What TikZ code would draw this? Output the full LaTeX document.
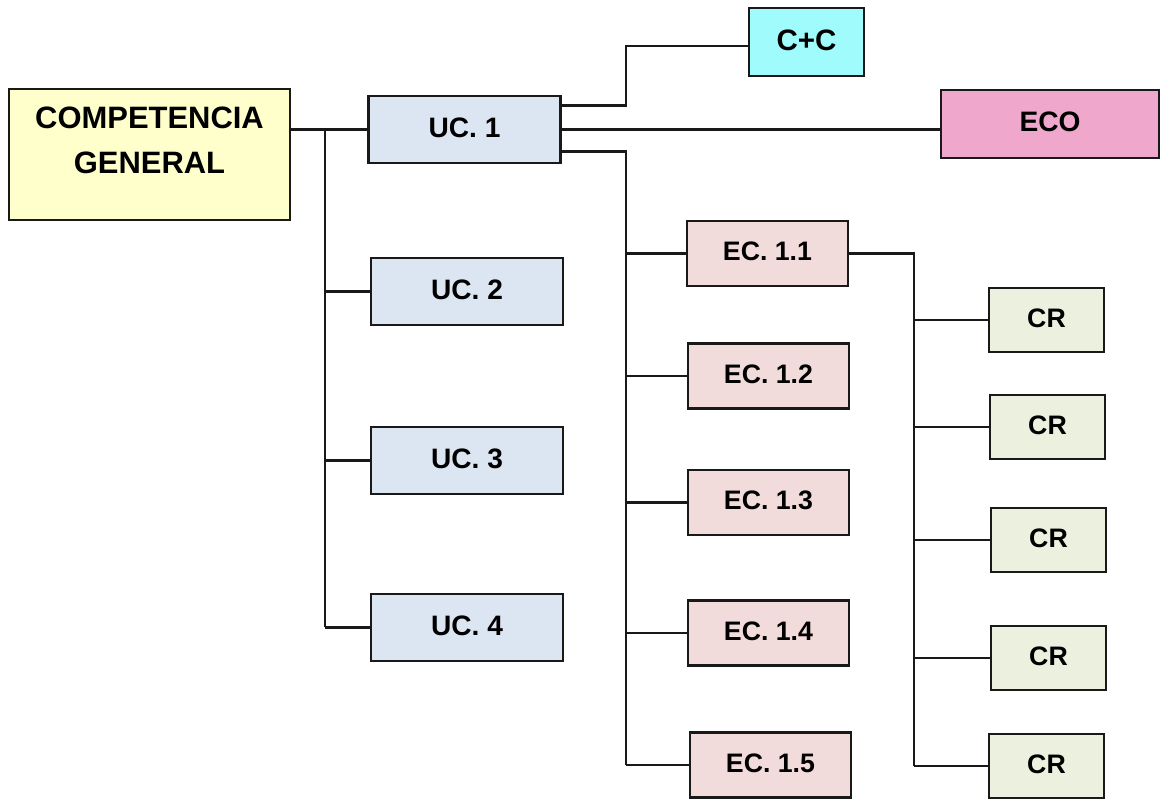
\documentclass[tikz,border=0pt]{standalone}
\usepackage{fontspec}
\setmainfont{Liberation Sans}
\definecolor{cgfill}{RGB}{255,255,204}
\definecolor{ucfill}{RGB}{220,230,242}
\definecolor{ccfill}{RGB}{160,252,252}
\definecolor{ecofill}{RGB}{239,167,204}
\definecolor{ecfill}{RGB}{242,220,219}
\definecolor{crfill}{RGB}{235,241,222}
\begin{document}
\begin{tikzpicture}[x=0.025cm, y=-0.025cm,
    box/.style={draw=black!90, line width=1.8pt, rectangle, inner sep=0pt,
                text depth=3pt, font=\fontsize{20}{24}\selectfont\bfseries},
    ucbox/.style={box, fill=ucfill, minimum width=4.8cm, minimum height=1.675cm},
    ecbox/.style={box, fill=ecfill, minimum width=4.025cm, minimum height=1.625cm,
                  font=\fontsize{19}{23}\selectfont\bfseries},
    crbox/.style={box, fill=crfill, minimum width=2.875cm, minimum height=1.6cm,
                  font=\fontsize{19}{23}\selectfont\bfseries},
    link/.style={line width=1.5pt, black!90}]
  \useasboundingbox (0, 0) rectangle (1160, 799);
  % boxes
  \node (cg) [box, fill=cgfill, minimum width=7.025cm, minimum height=3.275cm,
              align=center, text depth=0.7cm, font=\fontsize{22}{32}\selectfont\bfseries]
        at (149.5, 154.5) {COMPETENCIA\\GENERAL};
  \node (uc1) [ucbox] at (464.5, 129.5) {UC. 1};
  \node (uc2) [ucbox] at (467, 291.5) {UC. 2};
  \node (uc3) [ucbox] at (467, 460.5) {UC. 3};
  \node (uc4) [ucbox] at (467, 627.5) {UC. 4};
  \node (cc) [box, fill=ccfill, minimum width=2.875cm, minimum height=1.7cm,
              font=\fontsize{21}{25}\selectfont\bfseries] at (806.5, 42) {C+C};
  \node (eco) [box, fill=ecofill, minimum width=5.45cm, minimum height=1.7cm]
        at (1050, 124) {ECO};
  \node (ec1) [ecbox] at (767.5, 253.5) {EC. 1.1};
  \node (ec2) [ecbox] at (768.5, 376) {EC. 1.2};
  \node (ec3) [ecbox] at (768.5, 502.5) {EC. 1.3};
  \node (ec4) [ecbox] at (768.5, 633) {EC. 1.4};
  \node (ec5) [ecbox] at (770.5, 765) {EC. 1.5};
  \node (cr1) [crbox] at (1046.5, 320) {CR};
  \node (cr2) [crbox] at (1047.5, 427) {CR};
  \node (cr3) [crbox] at (1048.5, 540) {CR};
  \node (cr4) [crbox] at (1048.5, 658) {CR};
  \node (cr5) [crbox] at (1046.5, 766) {CR};
  % UC branch
  \draw[link] (cg.east |- uc1.west) -- (uc1.west);
  \coordinate (t1) at (325, 129.5);
  \draw[link] (t1) -- (t1 |- uc4.west);
  \foreach \n in {uc2, uc3, uc4}
    \draw[link] (t1 |- \n.west) -- (\n.west);
  % UC. 1 outputs
  \draw[link] ([yshift=0.6cm]uc1.east) -- ++(64, 0) |- ([yshift=-0.1cm]cc.west);
  \draw[link] (uc1.east) -- (uc1.east -| eco.west);
  \draw[link] ([yshift=-0.55cm]uc1.east) -- ++(64, 0) coordinate (t2)
              -- (t2 |- ec5.west);
  \foreach \n in {ec1, ec2, ec3, ec4, ec5}
    \draw[link] (t2 |- \n.west) -- (\n.west);
  % EC. 1.1 outputs
  \draw[link] (ec1.east) -- ++(65, 0) coordinate (t3) -- (t3 |- cr5.west);
  \foreach \n in {cr1, cr2, cr3, cr4, cr5}
    \draw[link] (t3 |- \n.west) -- (\n.west);
\end{tikzpicture}
\end{document}
